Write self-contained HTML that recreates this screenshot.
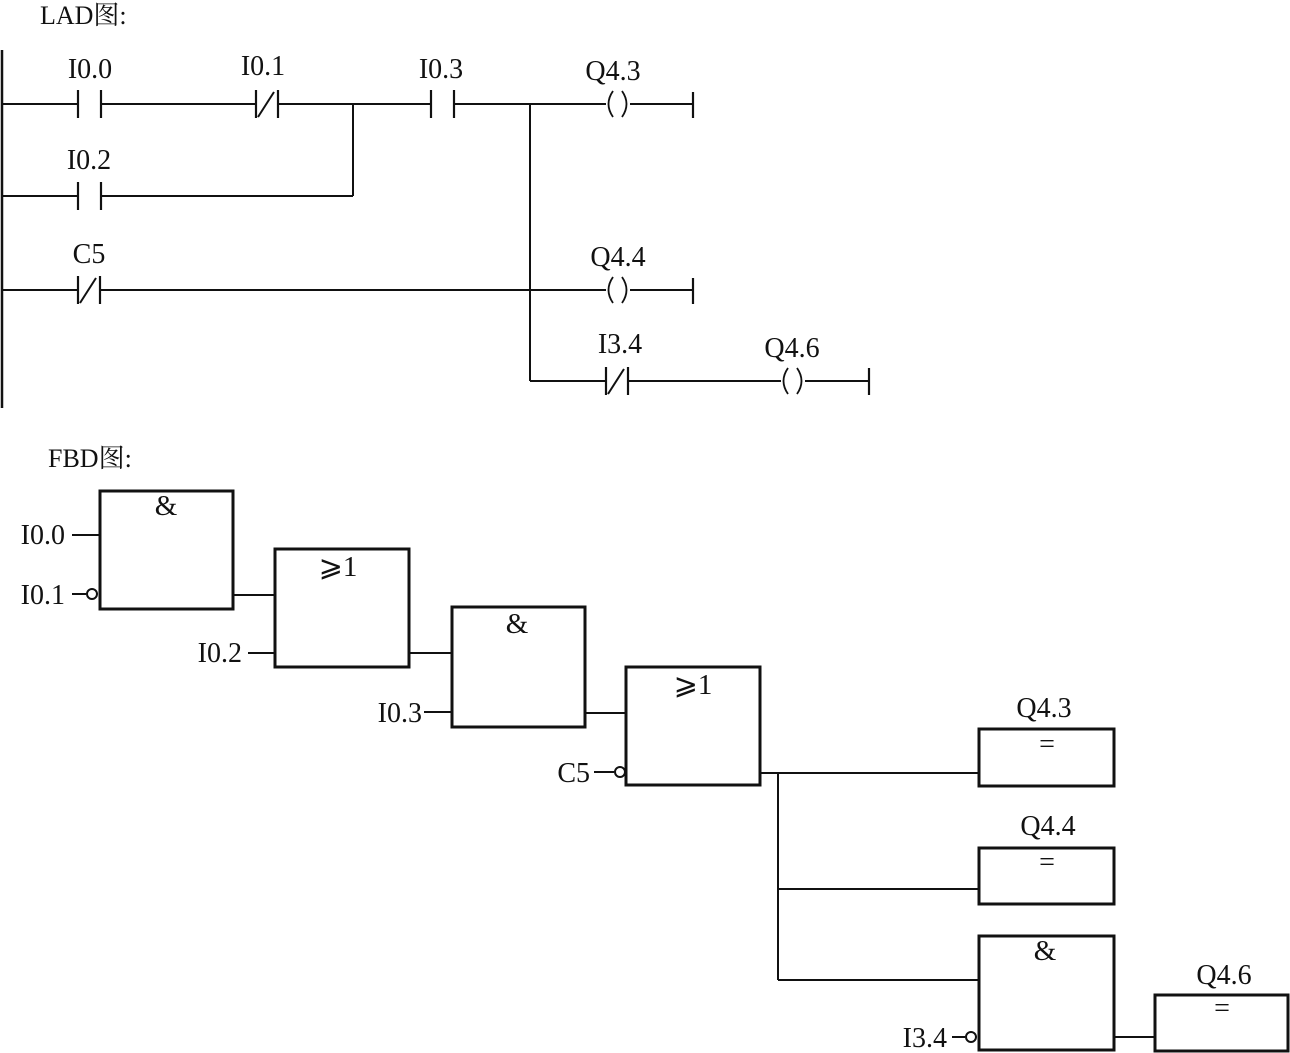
<!DOCTYPE html>
<html><head><meta charset="utf-8"><style>
html,body{margin:0;padding:0;background:#fff;}
svg{display:block;}
text{font-family:"Liberation Serif","Noto Serif CJK SC",serif;fill:#111;}
</style></head><body>
<svg width="1290" height="1053" viewBox="0 0 1290 1053" xmlns="http://www.w3.org/2000/svg">
<defs>
<g id="no"><line x1="0" y1="-14" x2="0" y2="14" stroke="#111" stroke-width="2.2"/><line x1="23" y1="-14" x2="23" y2="14" stroke="#111" stroke-width="2.2"/></g>
<g id="nc"><line x1="0" y1="-14" x2="0" y2="14" stroke="#111" stroke-width="2.2"/><line x1="22" y1="-14" x2="22" y2="14" stroke="#111" stroke-width="2.2"/><line x1="2" y1="13" x2="18" y2="-12" stroke="#111" stroke-width="2"/></g>
<g id="coil" fill="none" stroke="#111" stroke-width="1.8"><path d="M8,-13 Q-1,0 8,13"/><path d="M17,-13 Q26,0 17,13"/></g>
</defs>
<text x="40" y="24" font-size="26">LAD图:</text>
<text x="48" y="467" font-size="26">FBD图:</text>
<g stroke="#111" stroke-width="2" fill="none">
<line x1="2" y1="50" x2="2" y2="408" stroke-width="2.5"/>
<line x1="2" y1="104" x2="78" y2="104"/><line x1="101" y1="104" x2="256" y2="104"/>
<line x1="278" y1="104" x2="431" y2="104"/><line x1="454" y1="104" x2="606" y2="104"/>
<line x1="630" y1="104" x2="693" y2="104"/><line x1="693" y1="92" x2="693" y2="118" stroke-width="2.2"/>
<line x1="353" y1="104" x2="353" y2="196"/>
<line x1="2" y1="196" x2="78" y2="196"/><line x1="101" y1="196" x2="353" y2="196"/>
<line x1="530" y1="104" x2="530" y2="381"/>
<line x1="2" y1="290" x2="78" y2="290"/><line x1="100" y1="290" x2="606" y2="290"/>
<line x1="630" y1="290" x2="693" y2="290"/><line x1="693" y1="278" x2="693" y2="304" stroke-width="2.2"/>
<line x1="530" y1="381" x2="606" y2="381"/><line x1="628" y1="381" x2="781" y2="381"/>
<line x1="805" y1="381" x2="869" y2="381"/><line x1="869" y1="368" x2="869" y2="395" stroke-width="2.2"/>
</g>
<use href="#no" x="78" y="104"/><use href="#nc" x="256" y="104"/><use href="#no" x="431" y="104"/>
<use href="#coil" x="605" y="104"/>
<use href="#no" x="78" y="196"/>
<use href="#nc" x="78" y="290"/><use href="#coil" x="605" y="290"/>
<use href="#nc" x="606" y="381"/><use href="#coil" x="780" y="381"/>
<g font-size="28" text-anchor="middle">
<text x="90" y="78">I0.0</text><text x="263" y="75">I0.1</text><text x="441" y="78">I0.3</text><text x="613" y="80">Q4.3</text>
<text x="89" y="169">I0.2</text><text x="89" y="263">C5</text><text x="618" y="266">Q4.4</text>
<text x="620" y="353">I3.4</text><text x="792" y="357">Q4.6</text>
</g>
<g stroke="#111" fill="none">
<rect x="100" y="491" width="133" height="118" stroke-width="3"/>
<rect x="275" y="549" width="134" height="118" stroke-width="3"/>
<rect x="452" y="607" width="133" height="120" stroke-width="3"/>
<rect x="626" y="667" width="134" height="118" stroke-width="3"/>
<rect x="979" y="729" width="135" height="57" stroke-width="3"/>
<rect x="979" y="848" width="135" height="56" stroke-width="3"/>
<rect x="979" y="936" width="135" height="114" stroke-width="3"/>
<rect x="1155" y="995" width="133" height="56" stroke-width="3"/>
<g stroke-width="2">
<line x1="72" y1="535" x2="100" y2="535"/>
<line x1="72" y1="594" x2="86" y2="594"/><circle cx="92" cy="594" r="5"/>
<line x1="233" y1="595" x2="275" y2="595"/>
<line x1="248" y1="653" x2="275" y2="653"/>
<line x1="409" y1="653" x2="452" y2="653"/>
<line x1="424" y1="712" x2="452" y2="712"/>
<line x1="585" y1="713" x2="626" y2="713"/>
<line x1="594" y1="772" x2="614" y2="772"/><circle cx="620" cy="772" r="5"/>
<line x1="760" y1="773" x2="979" y2="773"/>
<line x1="778" y1="773" x2="778" y2="980"/>
<line x1="778" y1="889" x2="979" y2="889"/>
<line x1="778" y1="980" x2="979" y2="980"/>
<line x1="952" y1="1037" x2="965" y2="1037"/><circle cx="971" cy="1037" r="5"/>
<line x1="1114" y1="1037" x2="1155" y2="1037"/>
</g>
</g>
<g font-size="29" text-anchor="middle">
<text x="166" y="515">&amp;</text><text x="338" y="576">⩾1</text><text x="517" y="633">&amp;</text>
<text x="693" y="694">⩾1</text><text x="1045" y="960">&amp;</text>
</g>
<g font-size="28" text-anchor="middle">
<text x="1047" y="753">=</text><text x="1047" y="871">=</text><text x="1222" y="1017">=</text>
</g>
<g font-size="28" text-anchor="end">
<text x="65" y="544">I0.0</text><text x="65" y="604">I0.1</text>
<text x="242" y="662">I0.2</text><text x="422" y="722">I0.3</text>
<text x="590" y="782">C5</text><text x="947" y="1047">I3.4</text>
</g>
<g font-size="28" text-anchor="middle">
<text x="1044" y="717">Q4.3</text><text x="1048" y="835">Q4.4</text><text x="1224" y="984">Q4.6</text>
</g>
</svg>
</body></html>
